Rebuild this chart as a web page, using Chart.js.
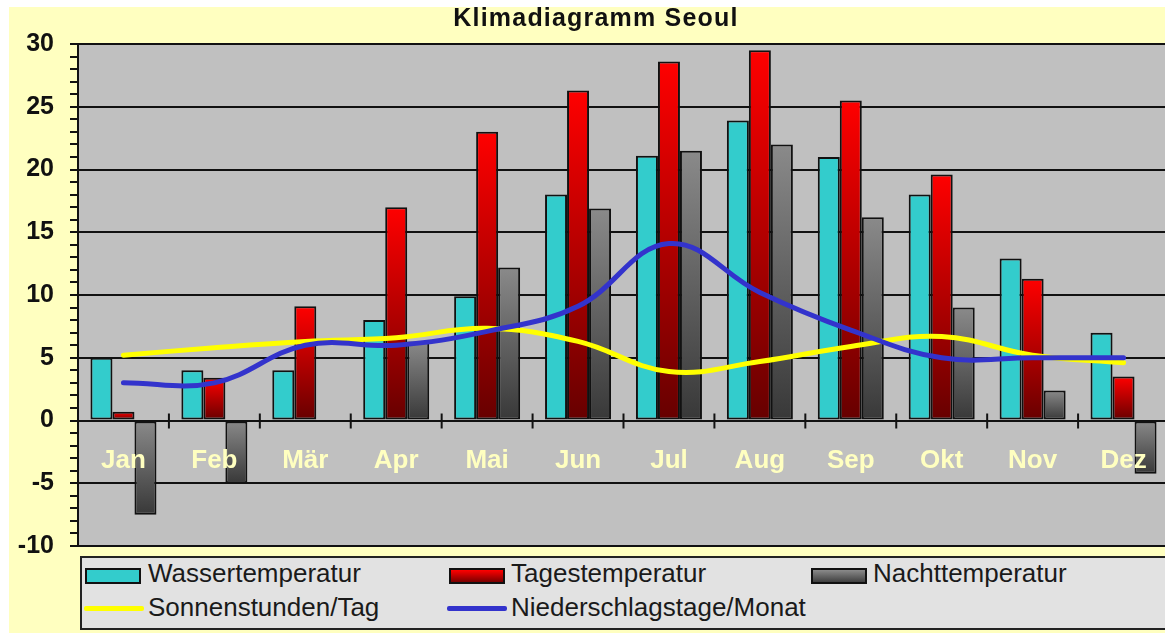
<!DOCTYPE html>
<html>
<head>
<meta charset="utf-8">
<script src="https://cdn.jsdelivr.net/npm/chart.js@4.4.1/dist/chart.umd.min.js"></script>
<style>
html,body{margin:0;padding:0;background:#fff;}
#wrap{position:relative;width:1165px;height:633px;overflow:hidden;}
#c{position:absolute;left:0;top:0;}
#title{position:absolute;left:0;width:1192px;top:5px;text-align:center;font:bold 25px "Liberation Sans",Arial,sans-serif;line-height:25px;letter-spacing:1.2px;color:#111;white-space:nowrap;}
#legend{position:absolute;left:80px;top:556px;width:1100px;height:70px;background:#E2E2E2;border:2px solid #222;}
.li{position:absolute;font:26px "Liberation Sans",Arial,sans-serif;line-height:26px;color:#1a1a1a;white-space:nowrap;}
.sw{position:absolute;box-sizing:border-box;border:2px solid #111;height:16px;width:56px;}
.ln{position:absolute;height:5px;border-radius:2px;width:60px;}
</style>
</head>
<body>
<div id="wrap">
<canvas id="c" width="1170" height="633"></canvas>
<div id="title">Klimadiagramm Seoul</div>
<div id="legend"></div>
<div class="sw" style="left:85px;top:568px;background:#33CCCC"></div>
<div class="li" style="left:148px;top:560px">Wassertemperatur</div>
<div class="sw" style="left:449px;top:568px;background:linear-gradient(#FF0000,#7a0000)"></div>
<div class="li" style="left:511px;top:560px">Tagestemperatur</div>
<div class="sw" style="left:811px;top:568px;background:linear-gradient(#8a8a8a,#404040)"></div>
<div class="li" style="left:873px;top:560px">Nachttemperatur</div>
<div class="ln" style="left:84px;top:606px;background:#FFFF00"></div>
<div class="li" style="left:148px;top:594px">Sonnenstunden/Tag</div>
<div class="ln" style="left:447px;top:606px;background:#3333CC"></div>
<div class="li" style="left:511px;top:594px">Niederschlagstage/Monat</div>
</div>
<script>
const months = ['Jan','Feb','Mär','Apr','Mai','Jun','Jul','Aug','Sep','Okt','Nov','Dez'];
const wasserTemp = [5, 4, 4, 8, 9.9, 18, 21.1, 23.9, 21, 18, 12.9, 7];
const tagesTemp = [0.7, 3.4, 9.1, 17, 23, 26.3, 28.6, 29.5, 25.5, 19.6, 11.3, 3.5];
const nachtTemp = [-7.5, -5, 0, 6.3, 12.2, 16.9, 21.5, 22, 16.2, 9, 2.4, -4.25];
const sonnenstunden = [5.2, 5.8, 6.3, 6.6, 7.35, 6.3, 3.9, 4.7, 5.9, 6.7, 5.2, 4.6];
const regentage = [3, 3, 6, 6, 7.1, 9.1, 14.1, 10.2, 7.2, 5, 5, 5];
const yTicksMin = -10, yTicksMax = 30;

function grad(c1, c2) {
  return (ctx) => {
    const ch = ctx.chart, y = ch.scales && ch.scales.y;
    if (!ch.chartArea || !y || ctx.raw == null) return c1;
    const v = ctx.raw;
    const p1 = y.getPixelForValue(Math.max(v, 0));
    const p2 = y.getPixelForValue(Math.min(v, 0));
    if (!isFinite(p1) || !isFinite(p2) || p1 === p2) return c1;
    const g = ch.ctx.createLinearGradient(0, p1, 0, p2);
    g.addColorStop(0, c1); g.addColorStop(1, c2);
    return g;
  };
}

const bgPlugin = {
  id: 'bg',
  beforeDraw(chart) {
    const c = chart.ctx, a = chart.chartArea;
    c.save();
    c.fillStyle = '#fff'; c.fillRect(0, 0, chart.width, chart.height);
    c.fillStyle = '#FFFFC0'; c.fillRect(9, 7, chart.width - 9, chart.height - 7);
    c.fillStyle = '#C0C0C0'; c.fillRect(a.left, a.top, a.right - a.left, a.bottom - a.top);
    c.restore();
  }
};
const tickPlugin = {
  id: 'xticks',
  afterDatasetsDraw(chart) {
    const c = chart.ctx, x = chart.scales.x, y0 = chart.scales.y.getPixelForValue(0);
    c.save(); c.strokeStyle = '#111'; c.lineWidth = 2;
    for (let i = 1; i < months.length; i++) {
      const px = (x.getPixelForValue(i - 1) + x.getPixelForValue(i)) / 2;
      c.beginPath(); c.moveTo(px, y0 - 7); c.lineTo(px, y0 + 8); c.stroke();
    }
    c.restore();
  }
};

const barCommon = { borderColor: '#111', borderWidth: 2, borderSkipped: false, categoryPercentage: 0.726, barPercentage: 1.0, order: 3 };
const font = '"Liberation Sans", Arial, sans-serif';

new Chart(document.getElementById('c'), {
  type: 'bar',
  data: {
    labels: months,
    datasets: [
      Object.assign({ label: 'Wassertemperatur', data: wasserTemp, backgroundColor: '#33CCCC' }, barCommon),
      Object.assign({ label: 'Tagestemperatur', data: tagesTemp, backgroundColor: grad('#FF0000', '#660000') }, barCommon),
      Object.assign({ label: 'Nachttemperatur', data: nachtTemp, backgroundColor: grad('#8a8a8a', '#383838') }, barCommon),
      { type: 'line', label: 'Sonnenstunden/Tag', data: sonnenstunden, borderColor: '#FFFF00', borderWidth: 5, pointRadius: 0, tension: 0.4, fill: false, order: 1, borderCapStyle: 'round' },
      { type: 'line', label: 'Niederschlagstage/Monat', data: regentage, borderColor: '#3333CC', borderWidth: 5, pointRadius: 0, tension: 0.4, fill: false, order: 0, borderCapStyle: 'round' }
    ]
  },
  options: {
    responsive: false, animation: false, devicePixelRatio: 1,
    layout: { padding: { top: 44, bottom: 87, left: 0, right: 1 } },
    plugins: { legend: { display: false }, tooltip: { enabled: false }, title: { display: false } },
    scales: {
      x: {
        position: { y: 0 }, offset: true,
        grid: { display: false },
        border: { display: true, color: '#111', width: 2, z: 1 },
        ticks: { z: 1, color: '#FFFFC0', font: { family: font, size: 26, weight: 'bold' }, padding: 17, maxRotation: 0, autoSkip: false }
      },
      y: {
        min: yTicksMin, max: yTicksMax,
        afterFit(s) { s.width = 78; },
        ticks: { stepSize: 1, autoSkip: false, padding: 16, color: '#111', font: { family: font, size: 25, weight: 'bold' },
          callback: (v) => (v % 5 === 0 ? String(v) : '') },
        grid: { color: (c) => (c.tick && c.tick.value % 5 === 0 ? '#111' : 'rgba(0,0,0,0)'), lineWidth: 2, tickColor: '#111', tickLength: 8, tickWidth: 2 },
        border: { display: true, color: '#111', width: 2 }
      }
    }
  },
  plugins: [bgPlugin, tickPlugin]
});
</script>
</body>
</html>
